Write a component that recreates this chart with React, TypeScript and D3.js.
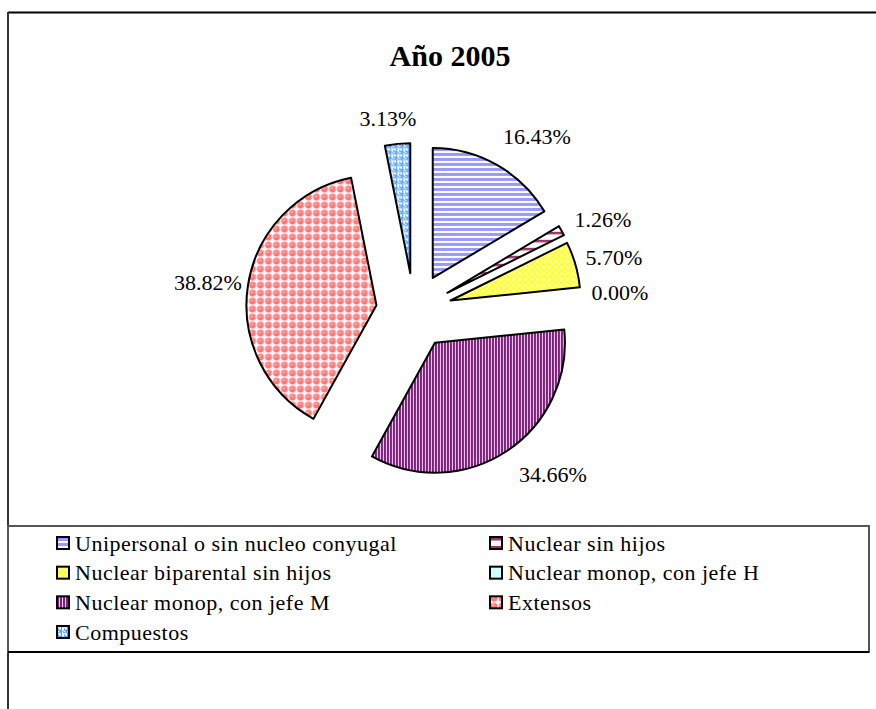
import React, { useEffect, useRef } from "react";
import * as d3 from "d3";

// data
const categories = [
  "Unipersonal o sin nucleo conyugal",
  "Nuclear sin hijos",
  "Nuclear biparental sin hijos",
  "Nuclear monop, con jefe H",
  "Nuclear monop, con jefe M",
  "Extensos",
  "Compuestos",
];
const values = [16.43, 1.26, 5.7, 0.0, 34.66, 38.82, 3.13];
const title = "Año 2005";

// pattern ids, one per category
const patternIds = ["pUni", "pSin", "pBip", "pMonH", "pMonM", "pExt", "pCom"];

// where excel put each percent label, relative to the pie centre
const labelOffsets = [
  [123, -175],
  [189, -92],
  [200, -54],
  [206, -19],
  [139, 163],
  [-206, -29],
  [-26, -193],
];

const W = 876;
const H = 709;
const font = "'Liberation Serif', 'Times New Roman', serif";

function Chart() {
  const ref = useRef(null);

  useEffect(() => {
    const svg = d3.select(ref.current);
    svg.selectAll("*").remove();

    // ---- patterns ----
    const defs = svg.append("defs");
    const pat = (id, w, h) =>
      defs.append("pattern").attr("id", id).attr("patternUnits", "userSpaceOnUse")
        .attr("width", w).attr("height", h);

    let p = pat("pUni", 6, 5);
    p.append("rect").attr("width", 6).attr("height", 5).attr("fill", "#ffffff");
    p.append("rect").attr("width", 6).attr("height", 3).attr("fill", "#9999ff");

    p = pat("pSin", 8, 8);
    p.append("rect").attr("width", 8).attr("height", 8).attr("fill", "#ffffff");
    p.append("rect").attr("y", 3).attr("width", 8).attr("height", 2.5).attr("fill", "#993366");

    p = pat("pBip", 6, 6);
    p.append("rect").attr("width", 6).attr("height", 6).attr("fill", "#ffff33");
    p.append("path").attr("d", "M3 1.2 L4.8 3 L3 4.8 L1.2 3 Z").attr("fill", "#ffffff");
    p.append("path").attr("d", "M0 0 L1 0 L0 1 Z M6 0 L5 0 L6 1 Z M0 6 L1 6 L0 5 Z M6 6 L5 6 L6 5 Z").attr("fill", "#ffffff");

    p = pat("pMonH", 4, 4);
    p.append("rect").attr("width", 4).attr("height", 4).attr("fill", "#ccffff");

    p = pat("pMonM", 3, 3);
    p.append("rect").attr("width", 3).attr("height", 3).attr("fill", "#ead4ea");
    p.append("rect").attr("width", 2).attr("height", 3).attr("fill", "#7f1f7f");

    p = pat("pExt", 8, 8);
    p.append("rect").attr("width", 8).attr("height", 8).attr("fill", "#ffffff");
    p.append("circle").attr("cx", 4).attr("cy", 4).attr("r", 3.4).attr("fill", "#ff7878");
    p.append("circle").attr("cx", 3.4).attr("cy", 3).attr("r", 1.1).attr("fill", "#ffc4c4");

    p = pat("pCom", 6, 6);
    p.append("rect").attr("width", 6).attr("height", 6).attr("fill", "#ffffff");
    p.append("path").attr("d", "M0 0.8 H4.5 V4.2 H1.5 V2.5 M3 6 V5.2 H6 M0 5.2 H0.8")
      .attr("fill", "none").attr("stroke", "#4a9af0").attr("stroke-width", 1.1);

    // ---- frame ----
    svg.append("line").attr("x1", 8).attr("x2", W).attr("y1", 12.5).attr("y2", 12.5)
      .attr("stroke", "#000").attr("stroke-width", 2);
    svg.append("line").attr("x1", 8).attr("x2", 8).attr("y1", 12).attr("y2", H)
      .attr("stroke", "#333").attr("stroke-width", 2);

    // ---- title ----
    svg.append("text").attr("x", 450).attr("y", 66).attr("text-anchor", "middle")
      .attr("font-family", font).attr("font-weight", "bold").attr("font-size", 30)
      .text(title);

    // ---- pie ----
    const cx = 414, cy = 311, r = 130, explode = 38;
    const pie = d3.pie<number>().sort(null).value((d) => d);
    const arcs = pie(values);
    const arc = d3.arc<any>().innerRadius(0).outerRadius(r);

    const g = svg.append("g").attr("transform", `translate(${cx},${cy})`);
    g.selectAll("path.slice")
      .data(arcs.filter((d) => d.value > 0))
      .enter()
      .append("path")
      .attr("class", "slice")
      .attr("d", arc)
      .attr("transform", (d) => {
        const mid = (d.startAngle + d.endAngle) / 2;
        return `translate(${Math.sin(mid) * explode},${-Math.cos(mid) * explode})`;
      })
      .attr("fill", (d) => `url(#${patternIds[d.index]})`)
      .attr("stroke", "#000")
      .attr("stroke-width", 2)
      .attr("stroke-linejoin", "round");

    g.selectAll("text.lbl")
      .data(arcs)
      .enter()
      .append("text")
      .attr("class", "lbl")
      .attr("x", (d) => labelOffsets[d.index][0])
      .attr("y", (d) => labelOffsets[d.index][1])
      .attr("text-anchor", "middle")
      .attr("dominant-baseline", "central")
      .attr("font-family", font)
      .attr("font-size", 22)
      .text((d) => d.value.toFixed(2) + "%");

    // ---- legend ----
    const lx = 8, ly = 526, lw = 861, lh = 126;
    svg.append("rect").attr("x", lx).attr("y", ly).attr("width", lw).attr("height", lh)
      .attr("fill", "none").attr("stroke", "#555").attr("stroke-width", 2);
    svg.append("line").attr("x1", lx).attr("x2", lx + lw).attr("y1", ly + lh).attr("y2", ly + lh)
      .attr("stroke", "#000").attr("stroke-width", 2);

    const colX = [57, 490];
    const rowY = d3.scaleLinear().domain([0, 3]).range([543, 632]);
    const items = svg.selectAll("g.item")
      .data(categories)
      .enter()
      .append("g")
      .attr("class", "item")
      .attr("transform", (d, i) => `translate(${colX[i % 2]},${rowY(Math.floor(i / 2))})`);
    items.append("rect")
      .attr("x", 0).attr("y", -6).attr("width", 12).attr("height", 12)
      .attr("fill", (d, i) => `url(#${patternIds[i]})`)
      .attr("stroke", "#000").attr("stroke-width", 2);
    items.append("text")
      .attr("x", 18).attr("y", 0)
      .attr("dominant-baseline", "central")
      .attr("font-family", font)
      .attr("font-size", 22)
      .attr("letter-spacing", 0.5)
      .text((d) => d);
  }, []);

  return <svg ref={ref} width={W} height={H} style={{ position: "absolute", left: 0, top: 0, background: "#fff" }} />;
}

export default function App() {
  return <Chart />;
}
